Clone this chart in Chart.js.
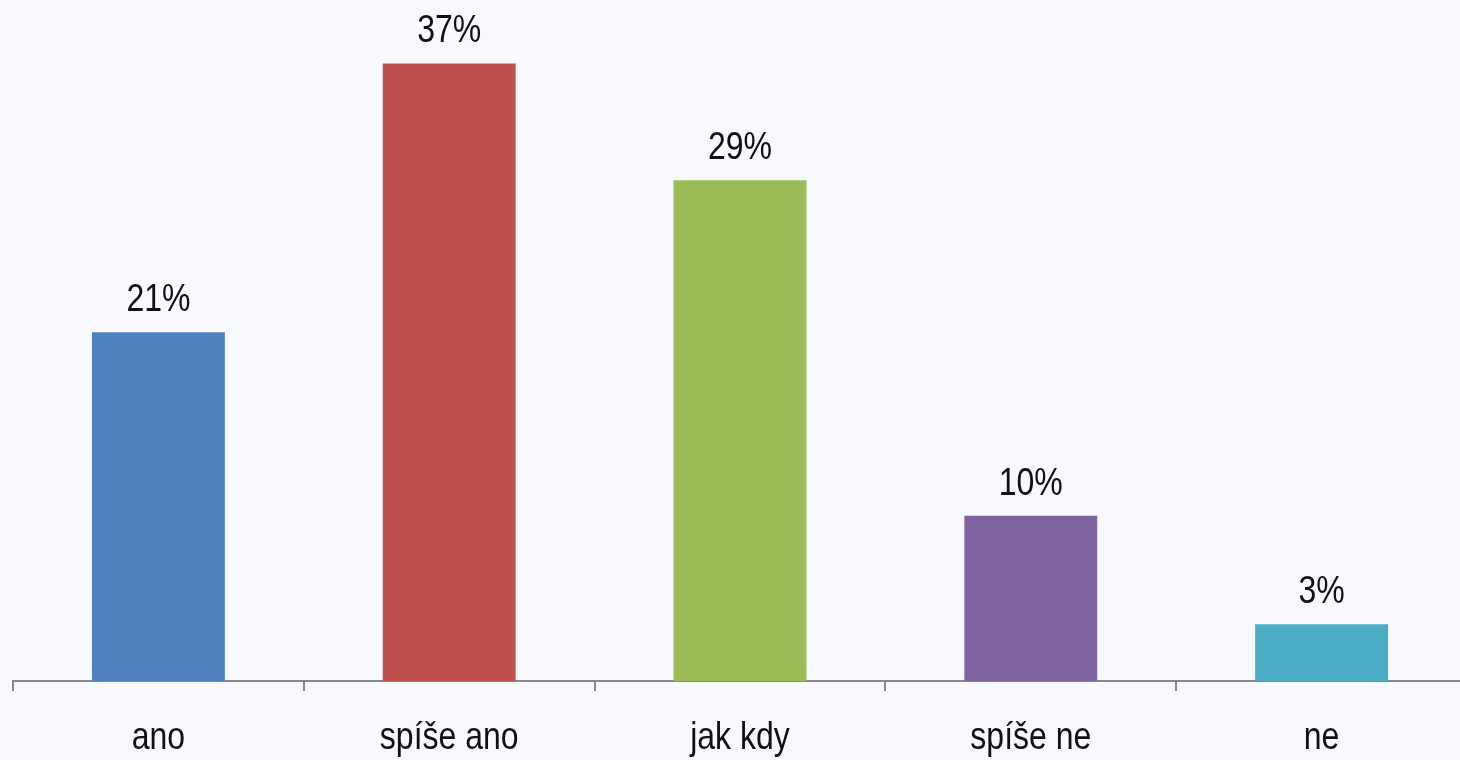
<!DOCTYPE html>
<html>
<head>
<meta charset="utf-8">
<script src="https://cdn.jsdelivr.net/npm/chart.js@4"></script>
<style>
  html, body { margin: 0; padding: 0; background: #f8f9fd; overflow: hidden; }
  #wrap { position: relative; width: 1468px; height: 760px; }
</style>
</head>
<body>
<div id="wrap"><canvas id="answerChart"></canvas></div>
<script>
// DATA
const categories = ['ano', 'spíše ano', 'jak kdy', 'spíše ne', 'ne'];
const shares = [20.9, 37, 30, 9.9, 3.4];
const shareLabels = ['21%', '37%', '29%', '10%', '3%'];
const barColors = ['#4f81bd', '#c0504d', '#9bbb59', '#8064a2', '#4bacc6'];

const FONT = '"Liberation Sans", Arial, sans-serif';
const SQUEEZE = 0.82; // puvodni pismo je uzke

function narrowText(ctx, text, x, y) {
    ctx.save();
    ctx.translate(x, y);
    ctx.scale(SQUEEZE, 1);
    ctx.fillText(text, 0, 0);
    ctx.restore();
}

// popisky nad sloupci + kategorie pod osou
const textLabels = {
    id: 'textLabels',
    afterDatasetsDraw(chart) {
        const ctx = chart.ctx;
        const meta = chart.getDatasetMeta(0);
        const xScale = chart.scales.x;
        ctx.save();
        ctx.font = '39px ' + FONT;
        ctx.fillStyle = '#111';
        ctx.textAlign = 'center';
        ctx.textBaseline = 'alphabetic';
        meta.data.forEach((bar, i) => {
            narrowText(ctx, shareLabels[i], bar.x, bar.y - 21);
        });
        categories.forEach((c, i) => {
            narrowText(ctx, c, xScale.getPixelForValue(i), xScale.bottom + 58);
        });
        ctx.restore();
    }
};

const ctx = document.getElementById('answerChart').getContext('2d');
new Chart(ctx, {
    type: 'bar',
    data: {
        labels: categories,
        datasets: [{
            data: shares,
            backgroundColor: barColors,
            borderWidth: 0,
            categoryPercentage: 1,
            barPercentage: 0.457
        }]
    },
    options: {
        responsive: true,
        maintainAspectRatio: false,
        animation: false,
        layout: { padding: { left: 13, right: 1, top: 0, bottom: 69 } },
        plugins: { legend: { display: false }, tooltip: { enabled: false } },
        scales: {
            x: {
                grid: {
                    display: true,
                    drawOnChartArea: false,
                    drawTicks: true,
                    tickLength: 10,
                    color: '#888',
                    lineWidth: 2
                },
                border: { display: true, color: '#888', width: 2 },
                ticks: { display: false }
            },
            y: {
                display: false,
                min: 0,
                max: 40.8
            }
        }
    },
    plugins: [textLabels]
});
</script>
</body>
</html>
